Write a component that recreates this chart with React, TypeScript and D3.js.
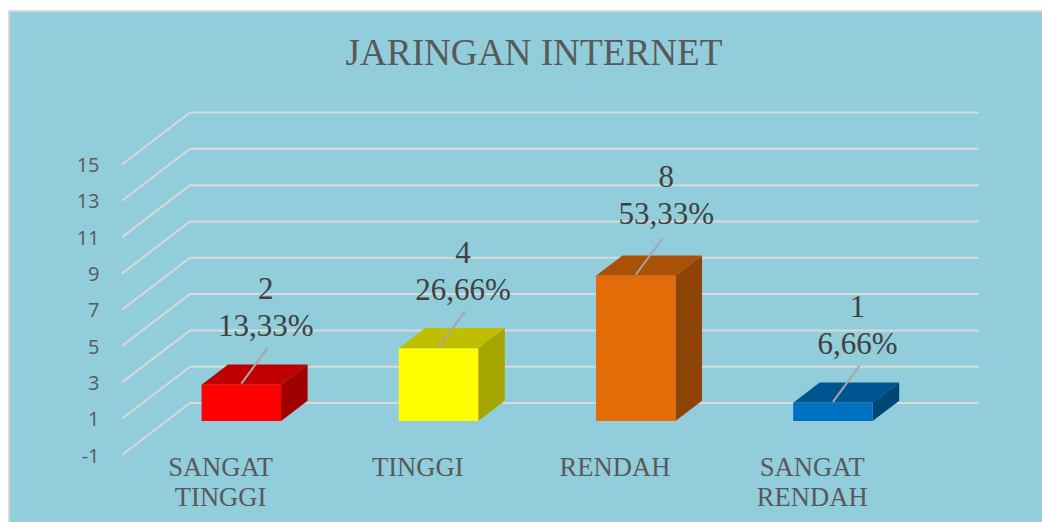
import React from "react";
import * as d3 from "d3";

const categories = [["SANGAT", "TINGGI"], ["TINGGI"], ["RENDAH"], ["SANGAT", "RENDAH"]];
const values = [2, 4, 8, 1];
const percents = ["13,33%", "26,66%", "53,33%", "6,66%"];
const frontColors = ["#ff0000", "#ffff00", "#e36c09", "#0070c0"];
const topColors = ["#c00000", "#bfbf00", "#aa5107", "#005490"];
const sideColors = ["#a00000", "#a6a600", "#8e4406", "#004678"];
const yTicks = [-1, 1, 3, 5, 7, 9, 11, 13, 15];
const title = "JARINGAN INTERNET";

const W = 1042, H = 522;
const SERIF = "'Liberation Serif', serif";
const SANS = "'Open Sans', 'Noto Sans', sans-serif";

const DX = 68, DY = -52;
const y = d3.scaleLinear().domain([-1, 15]).range([455, 164.5]);
const x = d3.scaleBand<number>().domain(d3.range(4)).range([122, 910.8]).paddingInner(0.597).paddingOuter(0.2985);
const near = 0.305, far = 0.695;
const pts = (a: number[][]) => a.map((p) => p.join(",")).join(" ");

export default function App() {
  return (
    <svg width={W} height={H} style={{ position: "fixed", left: 0, top: 0 }}>
      <rect width={W} height={H} fill="#ffffff" />
      <rect x={9} y={11} width={W} height={H} fill="#92cddc" stroke="#d9d9d9" strokeWidth={2} />
      <text x={534} y={65} textAnchor="middle" fontFamily={SERIF} fontSize={37.2} fill="#595959">{title}</text>

      {yTicks.map((t) => (
        <g key={t}>
          <polyline
            points={pts([[x.range()[0], y(t)], [x.range()[0] + DX, y(t) + DY], [x.range()[1] + DX, y(t) + DY]])}
            fill="none" stroke="#d9d9d9" strokeWidth={2} />
          <text x={99.5} y={y(t) + 7.5} textAnchor="end" fontFamily={SANS} fontSize={20} fill="#595959">{t}</text>
        </g>
      ))}

      {values.map((v, i) => {
        const bw = x.bandwidth();
        const x0 = x(i)! + near * DX;
        const x1 = x0 + bw;
        const yb = y(0) + near * DY;
        const yt = y(v) + near * DY;
        const ox = (far - near) * DX;
        const oy = (far - near) * DY;
        return (
          <g key={i}>
            <polygon points={pts([[x0, yt], [x1, yt], [x1 + ox, yt + oy], [x0 + ox, yt + oy]])} fill={topColors[i]} />
            <polygon points={pts([[x1, yt], [x1 + ox, yt + oy], [x1 + ox, yb + oy], [x1, yb]])} fill={sideColors[i]} />
            <rect x={x0} y={yt} width={bw} height={yb - yt} fill={frontColors[i]} />
          </g>
        );
      })}

      {values.map((v, i) => {
        const cx = x(i)! + near * DX + x.bandwidth() / 2;
        const yt = y(v) + near * DY;
        const tallest = v === d3.max(values);
        const lift = tallest ? 4 : 0.5;
        const shift = tallest ? 30.5 : 24.5;
        return (
          <g key={i}>
            <line x1={cx} y1={yt - 1} x2={cx + 26.5} y2={yt - 37} stroke="#a6a6a6" strokeWidth={2} />
            <text x={cx + shift} y={yt - 85 - lift} textAnchor="middle" fontFamily={SERIF} fontSize={31} fill="#404040">{v}</text>
            <text x={cx + shift} y={yt - 48 - lift} textAnchor="middle" fontFamily={SERIF} fontSize={31} fill="#404040">{percents[i]}</text>
          </g>
        );
      })}

      {categories.map((c, i) => (
        <text key={i} textAnchor="middle" fontFamily={SERIF} fontSize={26.6} fill="#595959">
          {c.map((line, j) => (
            <tspan key={j} x={x(i)! + x.bandwidth() / 2} y={476 + j * 30}>{line}</tspan>
          ))}
        </text>
      ))}
    </svg>
  );
}
